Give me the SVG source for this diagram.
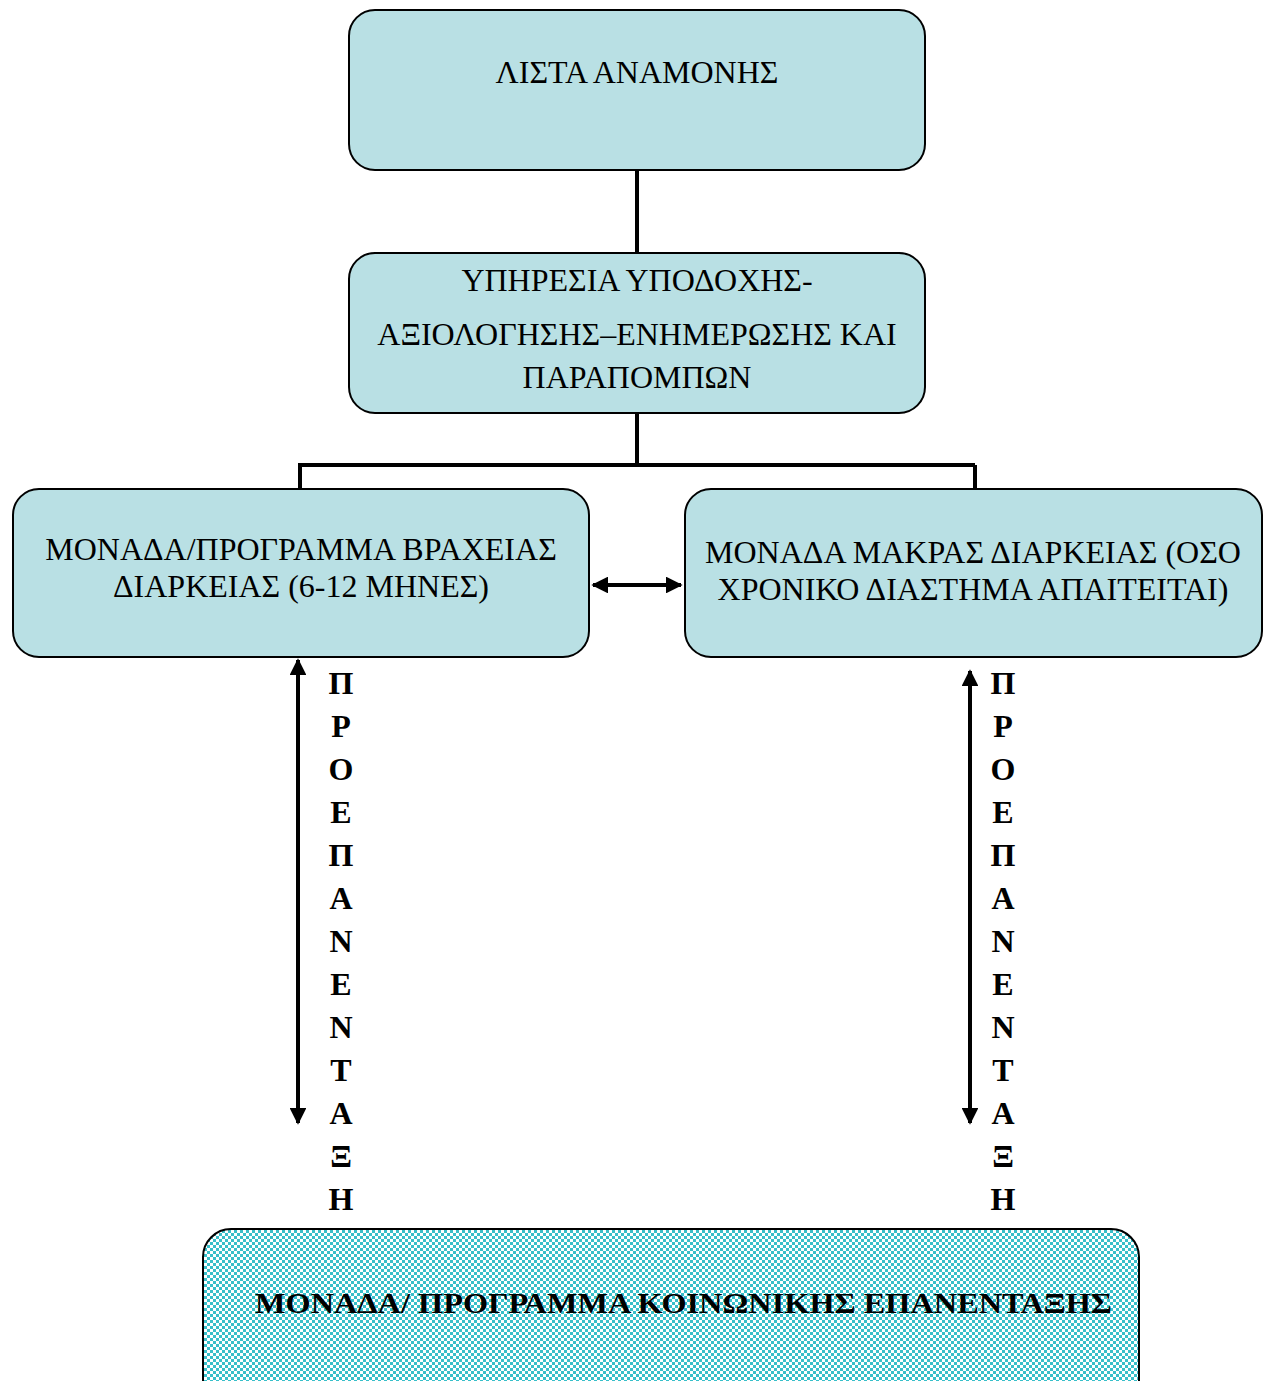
<svg xmlns="http://www.w3.org/2000/svg" width="1266" height="1381" viewBox="0 0 1266 1381">
<style>
.box{fill:#b9e0e4;stroke:#000;stroke-width:2}
.t{font-family:"Liberation Serif","Times New Roman",serif;font-size:32px;fill:#000;text-anchor:middle}
.v{font-family:"Liberation Serif","Times New Roman",serif;font-size:32px;font-weight:bold;fill:#000;text-anchor:middle}
.b{font-family:"Liberation Serif","Times New Roman",serif;font-size:30px;font-weight:bold;fill:#000}
.ln{fill:none;stroke:#000;stroke-width:4}
</style>
<defs>
<pattern id="chk" width="6" height="6" patternUnits="userSpaceOnUse">
<rect width="6" height="6" fill="#ffffff"/>
<rect width="3" height="3" fill="#38bfc9"/>
<rect x="3" y="3" width="3" height="3" fill="#38bfc9"/>
</pattern>
<marker id="ah" viewBox="0 0 10 10" refX="9" refY="5" markerWidth="4.2" markerHeight="4.2" orient="auto-start-reverse" markerUnits="strokeWidth">
<path d="M0,0 L10,5 L0,10 z" fill="#000"/>
</marker>
</defs>
<g id="connectors">
<path class="ln" d="M637,170 V253"/>
<path class="ln" d="M637,413 V465 M298,465 H975 M300,465 V489 M975,465 V489"/>
<path class="ln" d="M593,585 H681" marker-start="url(#ah)" marker-end="url(#ah)"/>
<path class="ln" d="M298,660 V1123" marker-start="url(#ah)" marker-end="url(#ah)"/>
<path class="ln" d="M970,671 V1123" marker-start="url(#ah)" marker-end="url(#ah)"/>
</g>
<g id="n1"><rect class="box" x="349" y="10" width="576" height="160" rx="26"/>
<text class="t" x="637" y="83">ΛΙΣΤΑ ΑΝΑΜΟΝΗΣ</text></g>
<g id="n2"><rect class="box" x="349" y="253" width="576" height="160" rx="26"/>
<text class="t" x="637" y="291">ΥΠΗΡΕΣΙΑ ΥΠΟΔΟΧΗΣ-</text>
<text class="t" x="637" y="345">ΑΞΙΟΛΟΓΗΣΗΣ‒ΕΝΗΜΕΡΩΣΗΣ ΚΑΙ</text>
<text class="t" x="637" y="388">ΠΑΡΑΠΟΜΠΩΝ</text></g>
<g id="n3"><rect class="box" x="13" y="489" width="576" height="168" rx="26"/>
<text class="t" x="301" y="560">ΜΟΝΑΔΑ/ΠΡΟΓΡΑΜΜΑ ΒΡΑΧΕΙΑΣ</text>
<text class="t" x="301" y="597">ΔΙΑΡΚΕΙΑΣ (6-12 ΜΗΝΕΣ)</text></g>
<g id="n4"><rect class="box" x="685" y="489" width="577" height="168" rx="26"/>
<text class="t" x="973" y="563">ΜΟΝΑΔΑ ΜΑΚΡΑΣ ΔΙΑΡΚΕΙΑΣ (ΟΣΟ</text>
<text class="t" x="973" y="600">ΧΡΟΝΙΚΟ ΔΙΑΣΤΗΜΑ ΑΠΑΙΤΕΙΤΑΙ)</text></g>
<g id="n5"><rect x="203" y="1229" width="936" height="180" rx="28" fill="url(#chk)" stroke="#000" stroke-width="2"/>
<text class="b" x="255" y="1313" textLength="857" lengthAdjust="spacingAndGlyphs">ΜΟΝΑΔΑ/ ΠΡΟΓΡΑΜΜΑ ΚΟΙΝΩΝΙΚΗΣ ΕΠΑΝΕΝΤΑΞΗΣ</text></g>
<g id="lbl-left">
<text class="v" x="341" y="694">Π</text><text class="v" x="341" y="737">Ρ</text><text class="v" x="341" y="780">Ο</text><text class="v" x="341" y="823">Ε</text><text class="v" x="341" y="866">Π</text><text class="v" x="341" y="909">Α</text><text class="v" x="341" y="952">Ν</text><text class="v" x="341" y="995">Ε</text><text class="v" x="341" y="1038">Ν</text><text class="v" x="341" y="1081">Τ</text><text class="v" x="341" y="1124">Α</text><text class="v" x="341" y="1167">Ξ</text><text class="v" x="341" y="1210">Η</text>
</g>
<g id="lbl-right">
<text class="v" x="1003" y="694">Π</text><text class="v" x="1003" y="737">Ρ</text><text class="v" x="1003" y="780">Ο</text><text class="v" x="1003" y="823">Ε</text><text class="v" x="1003" y="866">Π</text><text class="v" x="1003" y="909">Α</text><text class="v" x="1003" y="952">Ν</text><text class="v" x="1003" y="995">Ε</text><text class="v" x="1003" y="1038">Ν</text><text class="v" x="1003" y="1081">Τ</text><text class="v" x="1003" y="1124">Α</text><text class="v" x="1003" y="1167">Ξ</text><text class="v" x="1003" y="1210">Η</text>
</g>
</svg>
